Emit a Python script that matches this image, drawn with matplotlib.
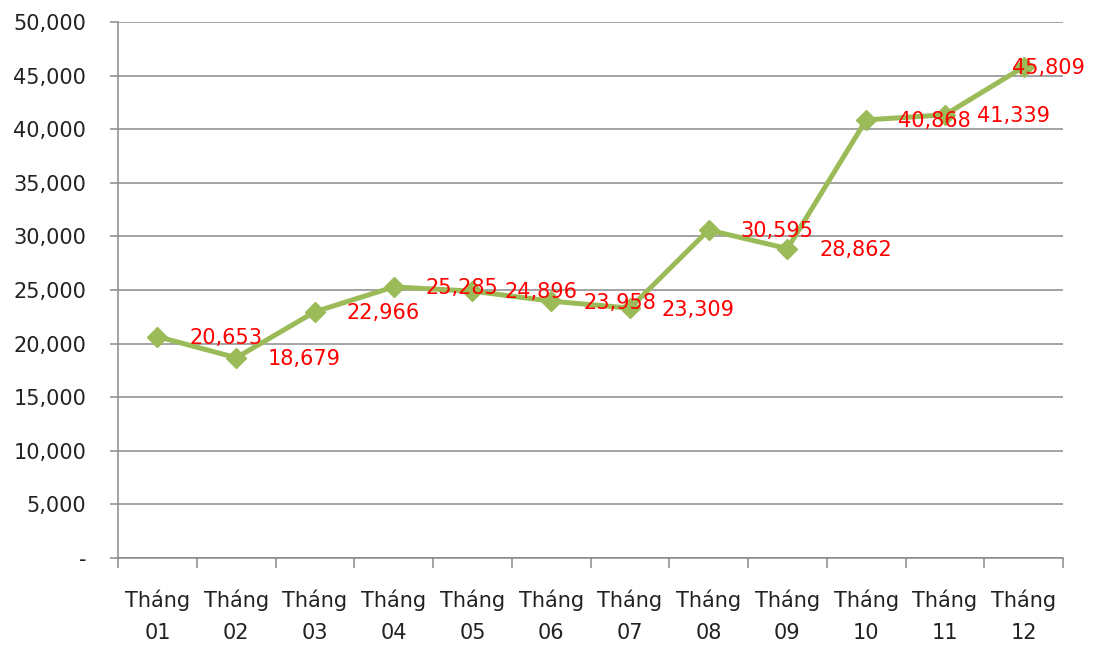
import matplotlib.pyplot as plt
from matplotlib.ticker import FuncFormatter, FixedLocator, MultipleLocator

plt.rcParams['font.family'] = ['DejaVu Sans']

months = ['Tháng\n01', 'Tháng\n02', 'Tháng\n03', 'Tháng\n04', 'Tháng\n05', 'Tháng\n06',
          'Tháng\n07', 'Tháng\n08', 'Tháng\n09', 'Tháng\n10', 'Tháng\n11', 'Tháng\n12']
values = [20653, 18679, 22966, 25285, 24896, 23958,
          23309, 30595, 28862, 40868, 41339, 45809]

grey = '#8a8a8a'
green = '#9BBB59'
fs = 15

fig = plt.figure(figsize=(10.93, 6.45), dpi=100)
ax = fig.add_axes([0.108, 0.1349, 0.8646, 0.831])

x = list(range(len(values)))
ax.plot(x, values, color=green, lw=3.6, marker='D', ms=10, zorder=3)

# value labels sit to the right of each point; the last one is pulled back inside
for xi, v in zip(x, values):
    if xi == len(values) - 1:
        ax.annotate(f'{v:,}', (xi, v), xytext=(44, -1), textcoords='offset points',
                    ha='right', va='center', color='#FF0000', fontsize=fs, zorder=4)
    else:
        ax.annotate(f'{v:,}', (xi, v), xytext=(23, -1), textcoords='offset points',
                    ha='left', va='center', color='#FF0000', fontsize=fs, zorder=4)

ax.set_xlim(-0.5, len(values) - 0.5)
ax.set_ylim(0, 50000)
ax.yaxis.set_major_locator(MultipleLocator(5000))
ax.yaxis.set_major_formatter(FuncFormatter(lambda v, p: '-' if v == 0 else f'{v:,.0f}'))
ax.grid(axis='y', color=grey, lw=1.1)
ax.set_axisbelow(True)

ax.set_xticks(x)
ax.set_xticklabels(months, linespacing=1.7)
ax.xaxis.set_minor_locator(FixedLocator([i - 0.5 for i in range(len(values) + 1)]))
ax.tick_params(axis='x', which='major', length=0, pad=23, labelsize=fs, colors='#222222')
ax.tick_params(axis='x', which='minor', length=7, width=1.1, color=grey)
ax.tick_params(axis='y', length=6, width=1.1, color=grey, labelsize=fs,
               labelcolor='#222222', pad=17)

for s in ['top', 'right']:
    ax.spines[s].set_visible(False)
for s in ['left', 'bottom']:
    ax.spines[s].set_color(grey)
    ax.spines[s].set_linewidth(1.1)

fig.savefig('out.png', dpi=100)
